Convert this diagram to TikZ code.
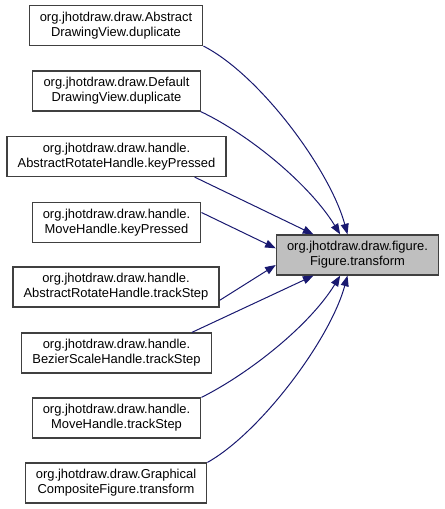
\documentclass[tikz,border=0pt]{standalone}
\usepackage{fontspec}
\setmainfont{Liberation Sans}
\usetikzlibrary{arrows.meta}
\definecolor{edgeblue}{HTML}{191970}
\tikzset{
  callbox/.style={draw=black!75,line width=.9pt,fill=white,align=center,inner xsep=8pt,inner ysep=2pt,minimum height=30pt,font=\fontsize{9.7}{11.25}\selectfont},
  focusbox/.style={callbox,fill=black!25},
  callarr/.style={-{Triangle[length=8pt,width=6pt]},edgeblue,line width=.75pt}
}

\begin{document}
\begin{tikzpicture}[x=.75pt,y=-.75pt]
  \useasboundingbox (0,0) rectangle (444,509);
  \node[focusbox] (t) at (357.5,255) {org.jhotdraw.draw.figure.\\Figure.transform};

  \node[callbox] (a) at (116,25.5) {org.jhotdraw.draw.Abstract\\DrawingView.duplicate};
  \node[callbox] (b) at (116.5,91) {org.jhotdraw.draw.Default\\DrawingView.duplicate};
  \node[callbox] (c) at (116.5,156.5) {org.jhotdraw.draw.handle.\\AbstractRotateHandle.keyPressed};
  \node[callbox] (d) at (116.5,222.5) {org.jhotdraw.draw.handle.\\MoveHandle.keyPressed};
  \node[callbox] (e) at (116,287) {org.jhotdraw.draw.handle.\\AbstractRotateHandle.trackStep};
  \node[callbox] (f) at (116.5,353) {org.jhotdraw.draw.handle.\\BezierScaleHandle.trackStep};
  \node[callbox] (g) at (116.5,418) {org.jhotdraw.draw.handle.\\MoveHandle.trackStep};
  \node[callbox] (h) at (116,483) {org.jhotdraw.draw.Graphical\\CompositeFigure.transform};

  % callers above the target
  \draw[callarr] (a.south east) .. controls (260,75) and (330,170) .. ([xshift=-7.5pt]t.north);
  \draw[callarr] (b.south east) .. controls (250,135) and (310,185) .. ([xshift=-13pt]t.north);
  \draw[callarr] ([xshift=-24pt]c.south east) -- ([xshift=-33pt]t.north);
  \draw[callarr] ([yshift=7.5pt]d.east) -- ([yshift=5pt]t.west);
  % callers below the target
  \draw[callarr] ([yshift=-10pt]e.east) -- ([yshift=-7.5pt]t.west);
  \draw[callarr] ([xshift=-15pt]f.north east) -- ([xshift=-33pt]t.south);
  \draw[callarr] (g.north east) .. controls (250,373) and (310,325) .. ([xshift=-13pt]t.south);
  \draw[callarr] (h.north east) .. controls (260,433) and (330,340) .. ([xshift=-7.5pt]t.south);
\end{tikzpicture}
\end{document}
